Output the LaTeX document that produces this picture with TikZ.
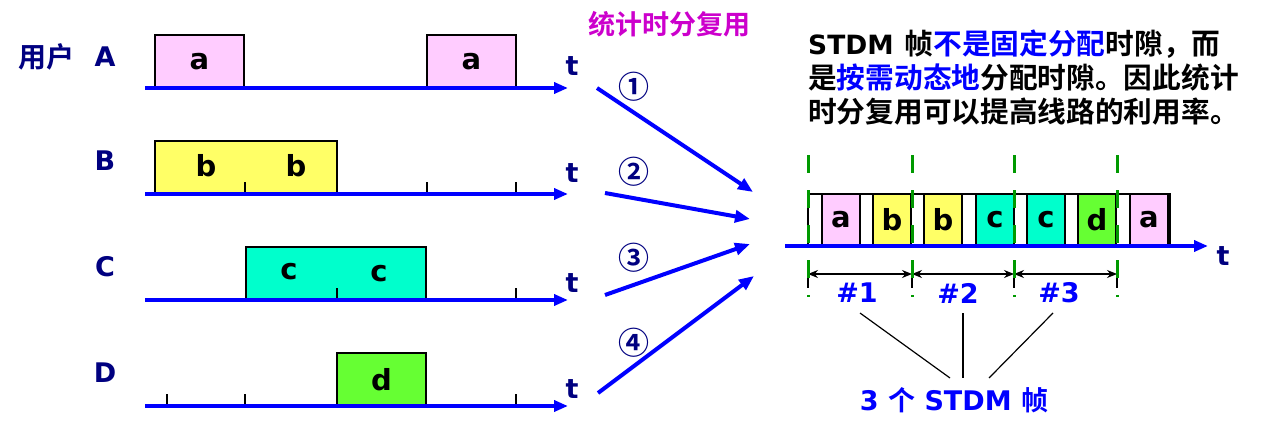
\documentclass[tikz,border=0pt]{standalone}
\usepackage{fontspec}
\setmainfont{DejaVu Sans}
\newfontfamily\cjk{Noto Sans CJK SC}[BoldFont={Noto Sans CJK SC Bold}]
\usetikzlibrary{arrows.meta}
\definecolor{navy}{HTML}{000080}
\definecolor{pinkc}{HTML}{FFCCFF}
\definecolor{yellowc}{HTML}{FFFF66}
\definecolor{cyanc}{HTML}{00FFCC}
\definecolor{greenc}{HTML}{66FF33}
\definecolor{magc}{HTML}{CC00CC}
\definecolor{axisblue}{HTML}{0000FF}
\definecolor{dashgreen}{HTML}{009900}
\tikzset{
  userlbl/.style={font=\bfseries\fontsize{27}{27}\selectfont, text=navy, inner sep=0pt},
  tlbl/.style={font=\bfseries\fontsize{27}{27}\selectfont, text=navy, inner sep=0pt},
  box/.style={draw=black, line width=2.5pt, minimum height=53pt, inner sep=0pt,
    font=\bfseries\fontsize{29}{29}\selectfont},
  letter/.style={font=\bfseries\fontsize{29}{29}\selectfont, inner sep=0pt, anchor=base},
  slotbox/.style={draw=black, line width=2pt, minimum width=38pt, minimum height=52pt, inner sep=0pt,
    font=\bfseries\fontsize{29}{29}\selectfont},
  timeaxis/.style={draw=axisblue, line width=4pt, -{Triangle[length=14pt,width=11pt]}},
  feed/.style={draw=axisblue, line width=4pt, -{Triangle[length=15pt,width=12pt]}},
  tick/.style={draw=black, line width=1.5pt},
  circnum/.style={font=\cjk\bfseries\fontsize{31}{31}\selectfont, text=navy, inner sep=0pt},
  gdash/.style={draw=dashgreen, line width=3pt, dash pattern=on 18pt off 17pt},
  dimline/.style={draw=black, line width=1.5pt, {Stealth[length=10pt,width=8pt]}-{Stealth[length=10pt,width=8pt]}},
  bluelbl/.style={font=\bfseries\fontsize{27}{27}\selectfont, text=axisblue, inner sep=0pt},
  paratext/.style={font=\bfseries\fontsize{28.7}{28.7}\selectfont, anchor=west, inner sep=0pt},
}
\begin{document}
\begin{tikzpicture}[x=1pt,y=-1pt]
\useasboundingbox (0,0) rectangle (1263,436);

% ---------- left side: user labels ----------
\node[userlbl, font=\cjk\bfseries\fontsize{28}{28}\selectfont] (yonghu) at (46,57) {用户};
\node[userlbl] (lA) at (105,57) {A};
\node[userlbl] (lB) at (105,161) {B};
\node[userlbl] (lC) at (105,267) {C};
\node[userlbl] (lD) at (105,373) {D};

% ---------- boxes ----------
\node[box, fill=pinkc, minimum width=89pt] (a1) at (199.5,61.5) {a};
\node[box, fill=pinkc, minimum width=89pt] (a2) at (471.5,61.5) {a};
\node[box, fill=yellowc, minimum width=182pt] (bb) at (246,167.5) {};
\node[letter] (b1) at (206,176) {b};
\node[letter] (b2) at (296,176) {b};
\node[box, fill=cyanc, minimum width=180pt] (cc) at (336,273.5) {};
\node[letter] (c1) at (289,279) {c};
\node[letter] (c2) at (379,281) {c};
\node[box, fill=greenc, minimum width=89pt] (dd) at (381.5,379.5) {d};

% ---------- ticks ----------
\foreach \x in {245,427,516} \draw[tick] (\x,182) -- (\x,194);
\foreach \x in {337,516} \draw[tick] (\x,288) -- (\x,300);
\foreach \x in {167,245,516} \draw[tick] (\x,394) -- (\x,406);

% ---------- axes ----------
\coordinate (As) at (145,88);  \coordinate (Ae) at (568,88);
\coordinate (Bs) at (145,194); \coordinate (Be) at (568,194);
\coordinate (Cs) at (145,300); \coordinate (Ce) at (568,300);
\coordinate (Ds) at (145,406); \coordinate (De) at (568,406);
\draw[timeaxis] (As) -- (Ae);
\draw[timeaxis] (Bs) -- (Be);
\draw[timeaxis] (Cs) -- (Ce);
\draw[timeaxis] (Ds) -- (De);
\node[tlbl] (tA) at (572,66) {t};
\node[tlbl] (tB) at (572,173) {t};
\node[tlbl] (tC) at (572,283) {t};
\node[tlbl] (tD) at (572,389) {t};

% ---------- middle ----------
\node[font=\cjk\bfseries\fontsize{27}{27}\selectfont, text=magc, inner sep=0pt] (title) at (669,24) {统计时分复用};
\node[circnum] (n1) at (634,87) {①};
\node[circnum] (n2) at (634,172) {②};
\node[circnum] (n3) at (634,258) {③};
\node[circnum] (n4) at (634,343) {④};
\coordinate (f1s) at (597,88);  \coordinate (f1e) at (753,192);
\coordinate (f2s) at (605,193); \coordinate (f2e) at (750,219);
\coordinate (f3s) at (605,295); \coordinate (f3e) at (750,244);
\coordinate (f4s) at (598,393); \coordinate (f4e) at (754,276);
\draw[feed] (f1s) -- (f1e);
\draw[feed] (f2s) -- (f2e);
\draw[feed] (f3s) -- (f3e);
\draw[feed] (f4s) -- (f4e);

% ---------- right text ----------
\node[paratext] (p1) at (808,44) {{\fontsize{26.5}{26.5}\selectfont STDM}\hspace{11pt}{\cjk 帧\textcolor{axisblue}{不是固定分配}时隙，而}};
\node[paratext] (p2) at (808,78) {\cjk 是\textcolor{axisblue}{按需动态地}分配时隙。因此统计};
\node[paratext] (p3) at (808,112) {\cjk 时分复用可以提高线路的利用率。};

% ---------- STDM frame ----------
\node[draw=black, line width=2.5pt, fill=white, minimum width=362pt, minimum height=52pt, inner sep=0pt] (frame) at (989,220) {};
\node[slotbox, fill=pinkc]   (s1) at (841,220) {a};
\node[slotbox, fill=yellowc] (s2) at (892,220) {b};
\node[slotbox, fill=yellowc] (s3) at (943,220) {b};
\node[slotbox, fill=cyanc]   (s4) at (995,220) {c};
\node[slotbox, fill=cyanc]   (s5) at (1046,220) {c};
\node[slotbox, fill=greenc]  (s6) at (1097,220) {d};
\node[slotbox, fill=pinkc]   (s7) at (1149,220) {a};

\coordinate (Rs) at (785,246); \coordinate (Re) at (1208,246);
\draw[timeaxis] (Rs) -- (Re);
\node[tlbl] (tR) at (1223,256) {t};

% frame boundaries
\foreach \x/\n in {808/g1,912/g2,1014/g3,1117/g4}{
  \coordinate (\n t) at (\x,155);
  \coordinate (\n b) at (\x,297);
  \coordinate (\n m) at (\x,274);
  \draw[black, line width=1.2pt] (\x,260) -- (\x,288);
}
\draw[dimline] (g1m) -- (g2m);
\draw[dimline] (g2m) -- (g3m);
\draw[dimline] (g3m) -- (g4m);
\foreach \n in {g1,g2,g3,g4} \draw[gdash] (\n t) -- (\n b);

\node[bluelbl] (h1) at (857,293) {\#1};
\node[bluelbl] (h2) at (958,293) {\#2};
\node[bluelbl] (h3) at (1059,293) {\#3};
\node[bluelbl] (frames) at (954,400) {3 {\cjk 个} STDM {\cjk 帧}};
\coordinate (h1b) at (860,313);
\coordinate (h2b) at (963,313);
\coordinate (h3b) at (1053,313);
\coordinate (j1) at (950,378);
\coordinate (j2) at (963,378);
\coordinate (j3) at (989,378);
\draw[black, line width=1.2pt] (h1b) -- (j1);
\draw[black, line width=1.2pt] (h2b) -- (j2);
\draw[black, line width=1.2pt] (h3b) -- (j3);
\end{tikzpicture}
\end{document}
